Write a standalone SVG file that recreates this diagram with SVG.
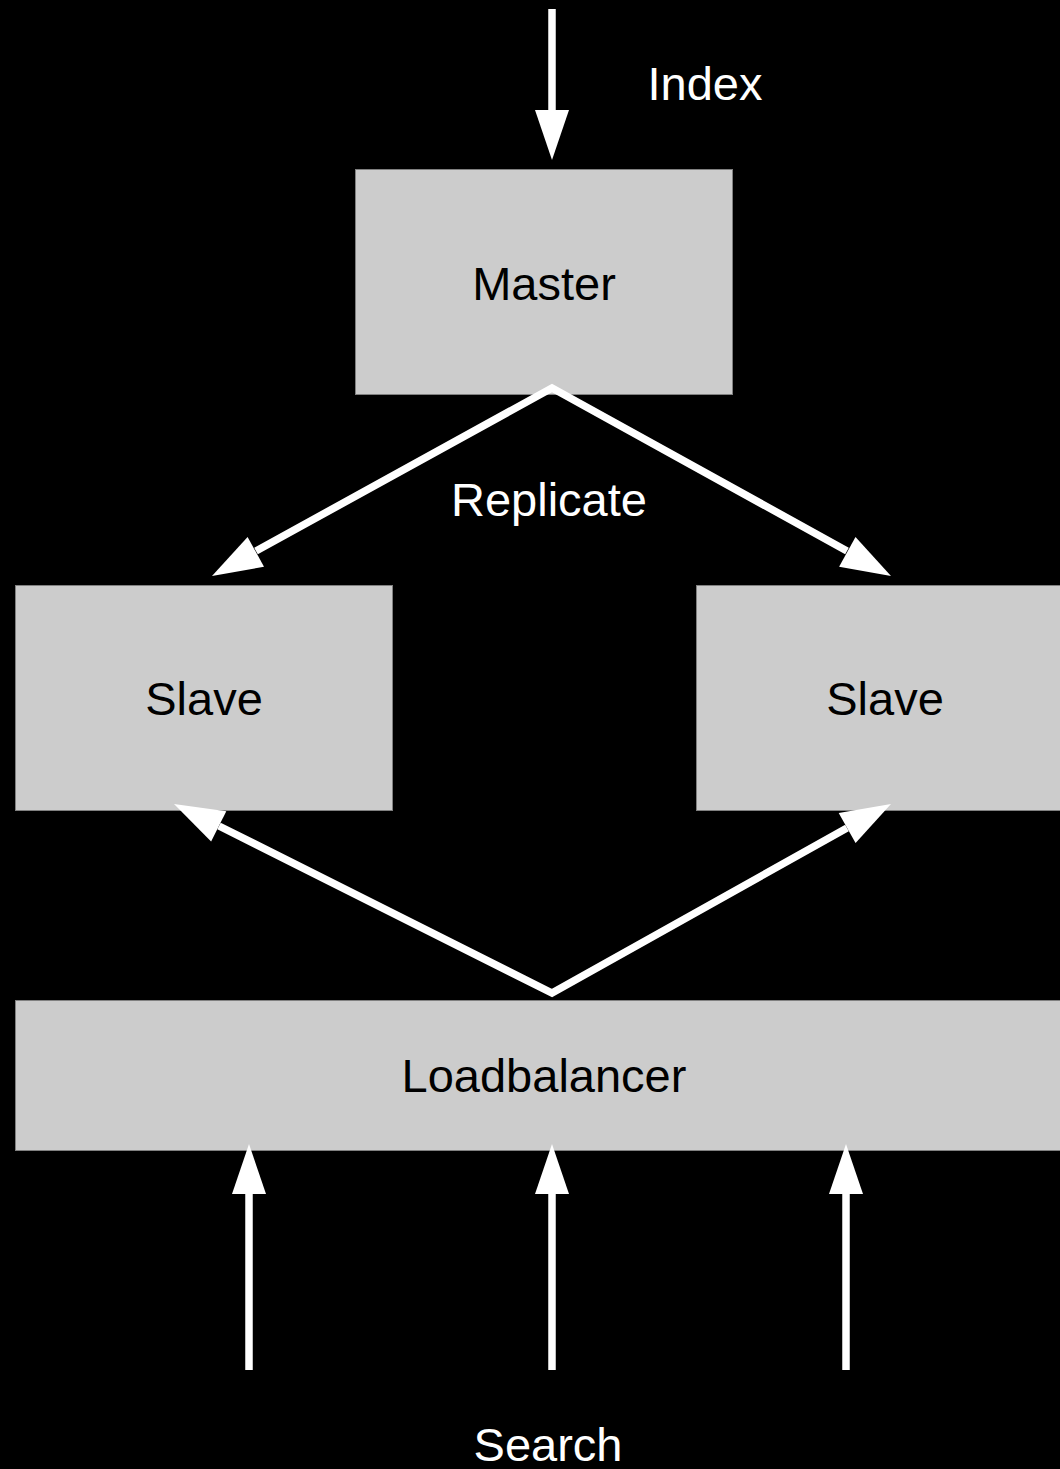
<svg xmlns="http://www.w3.org/2000/svg" width="1060" height="1469" viewBox="0 0 1060 1469">
<style>
.box{fill:#cccccc;stroke:#808080;stroke-width:1}
.t{font-family:"Liberation Sans",Arial,sans-serif;font-size:47px;text-anchor:middle}
.in{fill:#000000}
.out{fill:#ffffff}
.ln{fill:none;stroke:#ffffff;stroke-width:7.5;stroke-linejoin:miter}
.hd{fill:#ffffff;stroke:none}
</style>
<rect x="0" y="0" width="1060" height="1469" fill="#000000"/>
<g id="master"><rect class="box" x="355.5" y="169.5" width="377" height="225"/><text class="t in" x="544" y="300">Master</text></g>
<g id="slave-left"><rect class="box" x="15.5" y="585.5" width="377" height="225"/><text class="t in" x="204" y="715">Slave</text></g>
<g id="slave-right"><rect class="box" x="696.5" y="585.5" width="377" height="225"/><text class="t in" x="885" y="715">Slave</text></g>
<g id="loadbalancer"><rect class="box" x="15.5" y="1000.5" width="1057" height="150"/><text class="t in" x="544" y="1092">Loadbalancer</text></g>
<g id="connectors">
<line class="ln" x1="552" y1="9" x2="552" y2="112"/>
<polygon class="hd" points="552,160 535,110 569,110"/>
<polyline class="ln" points="256,551 552,388 847,551"/>
<polygon class="hd" points="212,576 247.6,536.9 264,566.7"/>
<polygon class="hd" points="891,576 855.5,536.9 839.1,566.7"/>
<polyline class="ln" points="219,826 552,993 847,828"/>
<polygon class="hd" points="174,804 226.3,811.2 211.1,841.6"/>
<polygon class="hd" points="891,804 838.7,813 855.6,843"/>
<line class="ln" x1="249" y1="1370" x2="249" y2="1192"/>
<polygon class="hd" points="249,1144 232,1194 266,1194"/>
<line class="ln" x1="552" y1="1370" x2="552" y2="1192"/>
<polygon class="hd" points="552,1144 535,1194 569,1194"/>
<line class="ln" x1="846" y1="1370" x2="846" y2="1192"/>
<polygon class="hd" points="846,1144 829,1194 863,1194"/>
</g>
<g id="labels">
<text class="t out" x="705" y="100">Index</text>
<text class="t out" x="549" y="516">Replicate</text>
<text class="t out" x="548" y="1461">Search</text>
</g>
</svg>
